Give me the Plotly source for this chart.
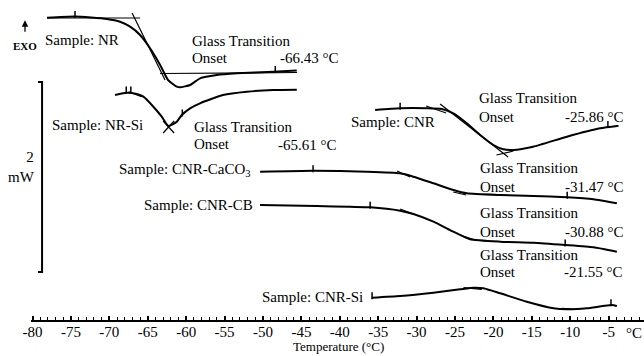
import plotly.graph_objects as go

# ---- DSC curves: temperature (°C) and heat flow (a.u., offset, 95 a.u. = 1 mW) ----
nr_T = [-78.11, -74.47, -70.34, -68.61, -67.30, -66.00, -64.70, -63.39, -62.36, -61.22,
        -60.79, -59.49, -58.19, -56.02, -53.41, -48.68, -45.60]
nr_y = [302.3, 303.5, 301.0, 298.3, 293.3, 285.0, 271.7, 255.0, 240.0, 233.3,
        232.7, 235.0, 241.7, 245.0, 246.7, 248.3, 249.5]

nrsi_T = [-69.26, -67.73, -66.43, -65.57, -64.27, -63.18, -62.32, -61.22, -60.57, -59.49,
          -58.20, -55.20, -52.11, -48.69, -45.60]
nrsi_y = [225.0, 227.3, 226.0, 223.3, 213.3, 203.3, 194.0, 198.3, 205.0, 211.7,
          216.7, 225.0, 228.3, 230.0, 230.3]

cnr_T = [-35.40, -32.15, -28.67, -26.72, -25.21, -23.46, -21.73, -20.00, -18.70, -17.40,
         -14.83, -10.44, -6.12, -3.72]
cnr_y = [210.0, 211.7, 211.7, 211.0, 206.7, 196.7, 185.0, 175.0, 170.7, 170.0,
         173.3, 183.3, 191.7, 194.3]

caco3_T = [-50.38, -43.44, -36.48, -32.15, -30.42, -27.81, -25.21, -23.46, -19.13, -14.79,
           -10.44, -6.98, -3.93]
caco3_y = [148.3, 149.3, 148.3, 146.7, 143.3, 136.7, 130.0, 126.7, 125.0, 124.0,
           122.7, 120.7, 116.7]

cb_T = [-50.38, -43.00, -36.05, -32.15, -30.42, -27.81, -25.21, -23.05, -19.13, -14.79,
        -10.66, -6.98, -3.93]
cb_y = [115.0, 114.0, 112.7, 109.3, 106.0, 98.3, 88.3, 80.7, 78.3, 77.3,
        75.0, 72.7, 68.3]

si_T = [-35.83, -32.15, -27.81, -24.34, -22.60, -21.30, -19.13, -15.65, -12.19, -10.44,
        -7.84, -4.58, -3.93]
si_y = [22.3, 24.0, 27.3, 30.7, 32.3, 31.7, 26.7, 18.3, 11.7, 10.7,
        11.7, 15.0, 14.0]

# ---- tangent construction segments (T pairs, y pairs) ----
tangent_T = [
    [-78.1, -66.0], [-67.04, -62.75], [-63.4, -45.56],          # NR
    [-67.5, -65.8], [-63.0, -61.57], [-63.0, -61.57],           # NR-Si
    [-28.76, -26.16], [-26.94, -18.09], [-19.6, -17.4],         # CNR
    [-32.54, -30.85], [-25.24, -23.55],                         # CNR-CaCO3
    [-32.15, -30.42], [-24.34, -22.38],                         # CNR-CB
    [-23.9, -21.51], [-11.1, -9.58],                            # CNR-Si
]
tangent_y = [
    [302.0, 302.0], [307.0, 240.0], [246.5, 247.5],
    [228.3, 223.3], [199.0, 187.0], [187.0, 199.0],
    [214.0, 207.0], [216.0, 163.0], [165.0, 169.0],
    [149.0, 143.0], [128.0, 125.0],
    [111.0, 106.0], [85.0, 80.0],
    [32.3, 30.7], [11.7, 11.0],
]

# ---- analysis-limit tick marks on the curves ----
mark_T = [-74.47, -48.40, -67.80, -67.20, -60.50, -32.15, -5.10, -43.48, -10.40,
          -36.05, -10.66, -35.80, -4.70]
mark_y = [303.5, 248.5, 228.0, 228.0, 205.0, 211.7, 193.5, 149.3, 122.7,
          112.7, 75.0, 22.3, 15.3]

# ---- 2 mW scale bar ----
bar_T = [-79.28, -78.76, -78.76, -79.28]
bar_y = [238.0, 238.0, 48.0, 48.0]

x_ticks = list(range(-80, -4, 5))

FONT = "Liberation Serif, DejaVu Serif, Noto Serif, serif"
line_style = dict(color="black", width=2, shape="spline", smoothing=0.5)

fig = go.Figure()
for T, y in [(nr_T, nr_y), (nrsi_T, nrsi_y), (cnr_T, cnr_y),
             (caco3_T, caco3_y), (cb_T, cb_y), (si_T, si_y)]:
    fig.add_trace(go.Scatter(x=T, y=y, mode="lines", line=line_style,
                             hoverinfo="skip", showlegend=False))
for T, y in zip(tangent_T, tangent_y):
    fig.add_trace(go.Scatter(x=T, y=y, mode="lines",
                             line=dict(color="black", width=1.2),
                             hoverinfo="skip", showlegend=False))
fig.add_trace(go.Scatter(x=mark_T, y=[v + 2 for v in mark_y], mode="markers",
                         marker=dict(symbol="line-ns", size=5,
                                     line=dict(color="black", width=1.5)),
                         hoverinfo="skip", showlegend=False))
fig.add_trace(go.Scatter(x=bar_T, y=bar_y, mode="lines",
                         line=dict(color="black", width=2),
                         hoverinfo="skip", showlegend=False))

def txt(x, y, s, anchor="left", size=15, bold=False, xref="x", yref="y",
        align="left", yanchor="middle"):
    fig.add_annotation(x=x, y=y, xref=xref, yref=yref,
                       text=("<b>%s</b>" % s) if bold else s,
                       showarrow=False, xanchor=anchor, yanchor=yanchor, align=align,
                       font=dict(family=FONT, size=size, color="black"))

# labels
txt(-78.63, 280, "Sample: NR")
txt(-59.49, 279, "Glass Transition")
txt(-59.49, 262, "Onset")
txt(-48.03, 262, "-66.43 °C")

txt(-77.72, 195, "Sample: NR-Si")
txt(-59.23, 193, "Glass Transition")
txt(-59.23, 176, "Onset")
txt(-48.29, 175, "-65.61 °C")

txt(-38.79, 198, "Sample: CNR")
txt(-22.12, 222, "Glass Transition")
txt(-22.12, 203, "Onset")
txt(-2.73, 203, "-25.86 °C", anchor="right")

txt(-69.0, 150, "Sample: CNR-CaCO<sub>3</sub>")
txt(-21.99, 152, "Glass Transition")
txt(-21.99, 133, "Onset")
txt(-2.73, 133, "-31.47 °C", anchor="right")

txt(-65.74, 115, "Sample: CNR-CB")
txt(-21.99, 107, "Glass Transition")
txt(-21.99, 88, "Onset")
txt(-2.73, 88, "-30.88 °C", anchor="right")

txt(-21.99, 65, "Glass Transition")
txt(-21.99, 48, "Onset")
txt(-2.86, 48, "-21.55 °C", anchor="right")

txt(-36.71, 23, "Sample: CNR-Si", anchor="right")

# scale-bar label, EXO arrow and axis texts (outside the data range -> paper coords)
txt(0.01, 0.478, "2<br>mW", anchor="right", xref="paper", yref="paper", align="right")
txt(-0.0098, 0.856, "EXO", anchor="center", size=11, bold=True, xref="paper", yref="paper")
fig.add_annotation(x=-0.0098, y=0.937, xref="paper", yref="paper", text="", showarrow=True,
                   ax=0, ay=13, arrowhead=2, arrowsize=1, arrowwidth=1.3,
                   arrowcolor="black")
txt(0.502, -0.1125, "Temperature (°C)", anchor="center", size=13, xref="paper", yref="paper",
    yanchor="bottom")
txt(0.984, -0.04, "°C", anchor="center", xref="paper", yref="paper")

fig.update_layout(
    width=644, height=356,
    margin=dict(l=31, r=0, t=0, b=36),
    paper_bgcolor="white", plot_bgcolor="white",
    showlegend=False,
    font=dict(family=FONT, size=15, color="black"),
    xaxis=dict(range=[-80.2, -0.4], showgrid=False, zeroline=False,
               showline=True, linecolor="black", linewidth=2,
               tickmode="array", tickvals=x_ticks, ticktext=[str(v) for v in x_ticks],
               ticks="inside", ticklen=4, tickwidth=1.5, tickcolor="black",
               ticklabelstandoff=-3,
               tickfont=dict(family=FONT, size=15, color="black"),
               minor=dict(dtick=1, ticks="inside", ticklen=3, tickwidth=1, tickcolor="black"),
               fixedrange=True),
    yaxis=dict(range=[0, 320], visible=False, fixedrange=True),
)

fig.write_html("out.html")
